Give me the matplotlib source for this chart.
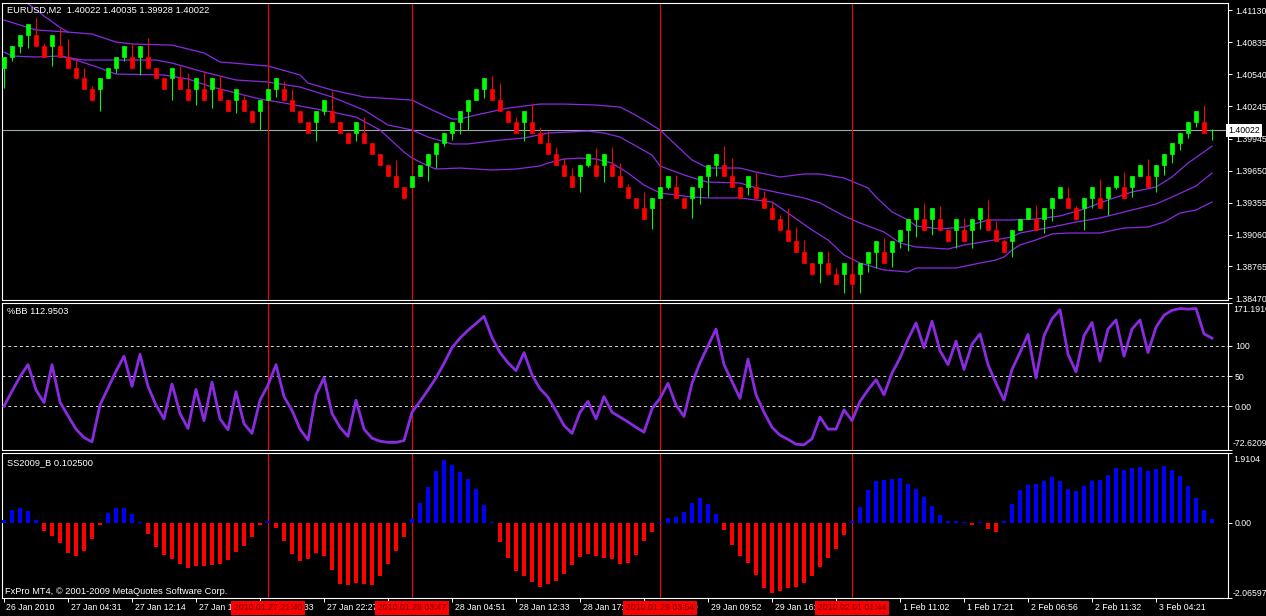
import matplotlib
matplotlib.use('Agg')
import matplotlib.pyplot as plt
import matplotlib.transforms as mtransforms
import numpy as np

W, H = 1266, 616

# ---- price bars (one per bar index 0..151) ----
opens = [1.4060, 1.4070, 1.4080, 1.4090, 1.4090, 1.4080, 1.4080, 1.4080, 1.4070, 1.4060,
         1.4050, 1.4040, 1.4040, 1.4050, 1.4060, 1.4070, 1.4070, 1.4070, 1.4070, 1.4060,
         1.4050, 1.4050, 1.4050, 1.4040, 1.4040, 1.4040, 1.4040, 1.4040, 1.4030, 1.4030,
         1.4030, 1.4020, 1.4020, 1.4030, 1.4040, 1.4040, 1.4030, 1.4020, 1.4010, 1.4010,
         1.4020, 1.4020, 1.4010, 1.4000, 1.4000, 1.4000, 1.3990, 1.3980, 1.3970, 1.3960,
         1.3950, 1.3950, 1.3960, 1.3970, 1.3980, 1.3990, 1.4000, 1.4010, 1.4020, 1.4030,
         1.4040, 1.4040, 1.4030, 1.4020, 1.4010, 1.4010, 1.4010, 1.4000, 1.3990, 1.3980,
         1.3970, 1.3960, 1.3960, 1.3970, 1.3970, 1.3970, 1.3970, 1.3960, 1.3950, 1.3940,
         1.3930, 1.3930, 1.3940, 1.3950, 1.3950, 1.3940, 1.3940, 1.3950, 1.3960, 1.3970,
         1.3970, 1.3960, 1.3950, 1.3950, 1.3950, 1.3940, 1.3930, 1.3920, 1.3910, 1.3900,
         1.3890, 1.3880, 1.3880, 1.3880, 1.3870, 1.3870, 1.3870, 1.3870, 1.3880, 1.3890,
         1.3890, 1.3890, 1.3900, 1.3910, 1.3920, 1.3920, 1.3920, 1.3920, 1.3910, 1.3910,
         1.3910, 1.3910, 1.3920, 1.3920, 1.3910, 1.3900, 1.3900, 1.3910, 1.3920, 1.3920,
         1.3920, 1.3930, 1.3940, 1.3940, 1.3930, 1.3930, 1.3940, 1.3940, 1.3940, 1.3950,
         1.3950, 1.3950, 1.3960, 1.3960, 1.3960, 1.3970, 1.3980, 1.3990, 1.4000, 1.4010,
         1.4010, 1.40022]
highs = [1.4070, 1.4080, 1.4090, 1.4100, 1.4106, 1.4083, 1.4090, 1.4096, 1.4086, 1.4069,
         1.4060, 1.4043, 1.4050, 1.4060, 1.4070, 1.4080, 1.4082, 1.4080, 1.4087, 1.4060,
         1.4050, 1.4060, 1.4061, 1.4055, 1.4050, 1.4057, 1.4050, 1.4052, 1.4030, 1.4040,
         1.4034, 1.4020, 1.4030, 1.4040, 1.4050, 1.4048, 1.4040, 1.4020, 1.4010, 1.4020,
         1.4030, 1.4038, 1.4010, 1.4000, 1.4010, 1.4014, 1.3990, 1.3980, 1.3970, 1.3975,
         1.3950, 1.3960, 1.3970, 1.3980, 1.3990, 1.4000, 1.4010, 1.4020, 1.4030, 1.4040,
         1.4050, 1.4052, 1.4046, 1.4020, 1.4014, 1.4020, 1.4027, 1.4005, 1.4001, 1.3987,
         1.3977, 1.3967, 1.3970, 1.3980, 1.3986, 1.3980, 1.3987, 1.3972, 1.3953, 1.3940,
         1.3945, 1.3940, 1.3950, 1.3960, 1.3961, 1.3940, 1.3950, 1.3960, 1.3970, 1.3980,
         1.3988, 1.3977, 1.3950, 1.3960, 1.3964, 1.3946, 1.3936, 1.3924, 1.3930, 1.3913,
         1.3901, 1.3880, 1.3890, 1.3891, 1.3875, 1.3880, 1.3870, 1.3880, 1.3890, 1.3900,
         1.3903, 1.3900, 1.3910, 1.3920, 1.3930, 1.3935, 1.3930, 1.3932, 1.3910, 1.3920,
         1.3921, 1.3920, 1.3930, 1.3938, 1.3918, 1.3902, 1.3910, 1.3920, 1.3930, 1.3933,
         1.3930, 1.3940, 1.3950, 1.3950, 1.3932, 1.3940, 1.3950, 1.3957, 1.3950, 1.3960,
         1.3964, 1.3960, 1.3970, 1.3976, 1.3970, 1.3980, 1.3990, 1.4000, 1.4010, 1.4020,
         1.4025, 1.40035]
lows = [1.4041, 1.4066, 1.4073, 1.4078, 1.4080, 1.4070, 1.4061, 1.4070, 1.4060, 1.4050,
        1.4040, 1.4030, 1.4020, 1.4050, 1.4055, 1.4066, 1.4060, 1.4053, 1.4060, 1.4050,
        1.4040, 1.4030, 1.4040, 1.4030, 1.4025, 1.4030, 1.4023, 1.4030, 1.4020, 1.4018,
        1.4020, 1.4010, 1.4002, 1.4030, 1.4033, 1.4030, 1.4020, 1.4010, 1.4000, 1.3992,
        1.4016, 1.4010, 1.4000, 1.3990, 1.3992, 1.3990, 1.3980, 1.3970, 1.3960, 1.3950,
        1.3940, 1.3950, 1.3960, 1.3955, 1.3967, 1.3988, 1.3993, 1.3999, 1.4002, 1.4030,
        1.4032, 1.4030, 1.4020, 1.4010, 1.4000, 1.3992, 1.4000, 1.3990, 1.3980, 1.3970,
        1.3960, 1.3950, 1.3945, 1.3968, 1.3960, 1.3954, 1.3960, 1.3950, 1.3940, 1.3930,
        1.3920, 1.3911, 1.3940, 1.3948, 1.3940, 1.3930, 1.3921, 1.3934, 1.3941, 1.3960,
        1.3960, 1.3950, 1.3940, 1.3942, 1.3940, 1.3930, 1.3920, 1.3910, 1.3900, 1.3890,
        1.3880, 1.3870, 1.3861, 1.3870, 1.3860, 1.3852, 1.3860, 1.3852, 1.3871, 1.3875,
        1.3880, 1.3876, 1.3894, 1.3891, 1.3904, 1.3910, 1.3906, 1.3910, 1.3900, 1.3894,
        1.3900, 1.3894, 1.3911, 1.3910, 1.3900, 1.3890, 1.3885, 1.3910, 1.3920, 1.3910,
        1.3907, 1.3918, 1.3940, 1.3930, 1.3920, 1.3910, 1.3930, 1.3930, 1.3924, 1.3948,
        1.3940, 1.3941, 1.3960, 1.3950, 1.3945, 1.3961, 1.3972, 1.3984, 1.3995, 1.4005,
        1.4000, 1.39928]
closes = [1.4070, 1.4080, 1.4090, 1.4100, 1.4080, 1.4070, 1.4090, 1.4070, 1.4060, 1.4050,
          1.4040, 1.4030, 1.4050, 1.4060, 1.4070, 1.4080, 1.4060, 1.4080, 1.4060, 1.4050,
          1.4040, 1.4060, 1.4040, 1.4030, 1.4050, 1.4030, 1.4050, 1.4030, 1.4020, 1.4040,
          1.4020, 1.4010, 1.4030, 1.4040, 1.4050, 1.4030, 1.4020, 1.4010, 1.4000, 1.4020,
          1.4030, 1.4010, 1.4000, 1.3990, 1.4010, 1.3990, 1.3980, 1.3970, 1.3960, 1.3950,
          1.3940, 1.3960, 1.3970, 1.3980, 1.3990, 1.4000, 1.4010, 1.4020, 1.4030, 1.4040,
          1.4050, 1.4030, 1.4020, 1.4010, 1.4000, 1.4020, 1.4000, 1.3990, 1.3980, 1.3970,
          1.3960, 1.3950, 1.3970, 1.3980, 1.3960, 1.3980, 1.3960, 1.3950, 1.3940, 1.3930,
          1.3920, 1.3940, 1.3950, 1.3960, 1.3940, 1.3930, 1.3950, 1.3960, 1.3970, 1.3980,
          1.3960, 1.3950, 1.3940, 1.3960, 1.3940, 1.3930, 1.3920, 1.3910, 1.3900, 1.3890,
          1.3880, 1.3870, 1.3890, 1.3870, 1.3860, 1.3880, 1.3860, 1.3880, 1.3890, 1.3900,
          1.3880, 1.3900, 1.3910, 1.3920, 1.3930, 1.3910, 1.3930, 1.3910, 1.3900, 1.3920,
          1.3900, 1.3920, 1.3930, 1.3910, 1.3900, 1.3890, 1.3910, 1.3920, 1.3930, 1.3910,
          1.3930, 1.3940, 1.3950, 1.3930, 1.3920, 1.3940, 1.3950, 1.3930, 1.3950, 1.3960,
          1.3940, 1.3960, 1.3970, 1.3950, 1.3970, 1.3980, 1.3990, 1.4000, 1.4010, 1.4020,
          1.4000, 1.40022]

# ---- band lines, read at bar indices ----
upper_idx = [0, 4, 8, 11, 14, 16, 21, 25, 27, 33, 37, 38, 41, 45, 51, 53, 56, 57, 59, 63,
             67, 70, 74, 77, 78, 80, 82, 84, 86, 88, 92, 94, 97, 100, 102, 105, 108, 109,
             111, 113, 114, 117, 120, 123, 126, 129, 132, 135, 138, 141, 144, 146, 148,
             150, 151]
upper_val = [1.41038, 1.40946, 1.40927, 1.40909, 1.40835, 1.40817, 1.40807, 1.40734,
             1.40651, 1.40614, 1.40531, 1.40457, 1.40392, 1.40328, 1.40300, 1.40226,
             1.40125, 1.40125, 1.40162, 1.40226, 1.40263, 1.40263, 1.40254, 1.40235,
             1.40199, 1.40116, 1.40024, 1.39885, 1.39747, 1.39673, 1.39673, 1.39636,
             1.39590, 1.39618, 1.39618, 1.39581, 1.39489, 1.39406, 1.39268, 1.39194,
             1.39139, 1.39111, 1.39129, 1.39194, 1.39194, 1.39203, 1.39231, 1.39295,
             1.39378, 1.39452, 1.39498, 1.39590, 1.39719, 1.39821, 1.39876]
steep_idx = [2, 3, 5, 7, 8]
steep_val = [1.41270, 1.41190, 1.41075, 1.40970, 1.40927]
mid_idx = [0, 1, 4, 7, 9, 10, 14, 19, 21, 25, 29, 33, 37, 41, 45, 48, 51, 53, 56, 58,
           62, 65, 68, 73, 75, 77, 79, 81, 82, 85, 87, 88, 92, 94, 97, 100, 102, 105, 107,
           110, 112, 114, 118, 120, 123, 126, 127, 131, 134, 137, 139, 142, 144, 146, 149,
           151]
mid_val = [1.40743, 1.40706, 1.40697, 1.40706, 1.40678, 1.40669, 1.40669, 1.40669, 1.40641,
           1.40558, 1.40485, 1.40466, 1.40420, 1.40328, 1.40208, 1.40070, 1.40024, 1.39959,
           1.39895, 1.39895, 1.39931, 1.39950, 1.39996, 1.40014, 1.39996, 1.39959, 1.39876,
           1.39793, 1.39692, 1.39609, 1.39563, 1.39544, 1.39535, 1.39489, 1.39443, 1.39397,
           1.39351, 1.39231, 1.39166, 1.39083, 1.38982, 1.38945, 1.38926, 1.38963, 1.39000,
           1.39037, 1.39074, 1.39129, 1.39175, 1.39212, 1.39249, 1.39304, 1.39341, 1.39406,
           1.39507, 1.39627]
low_idx = [7, 9, 12, 14, 20, 23, 26, 29, 32, 35, 37, 41, 44, 47, 50, 51, 53, 54, 57, 61,
           64, 67, 68, 70, 72, 74, 76, 78, 80, 82, 84, 86, 88, 92, 94, 96, 98, 101, 103, 105,
           107, 110, 113, 114, 119, 122, 124, 125, 126, 127, 129, 131, 133, 137, 140, 143,
           145, 147, 149, 151]
low_val = [1.40706, 1.40669, 1.40595, 1.40540, 1.40531, 1.40494, 1.40420, 1.40365, 1.40309,
           1.40273, 1.40245, 1.40190, 1.40143, 1.40024, 1.39821, 1.39765, 1.39692, 1.39664,
           1.39673, 1.39655, 1.39664, 1.39692, 1.39719, 1.39756, 1.39765, 1.39756, 1.39719,
           1.39627, 1.39516, 1.39443, 1.39424, 1.39406, 1.39397, 1.39397, 1.39378, 1.39360,
           1.39258, 1.39102, 1.39010, 1.38871, 1.38797, 1.38733, 1.38714, 1.38751, 1.38751,
           1.38797, 1.38825, 1.38853, 1.38917, 1.38963, 1.39010, 1.39065, 1.39074, 1.39074,
           1.39120, 1.39129, 1.39175, 1.39258, 1.39286, 1.39360]

# ---- %BB ----
pct_bb = [0, 25, 49, 69, 27, 6, 69, 7, -16, -38,
          -52, -59, 2, 30, 58, 83, 33, 86, 33, 2,
          -21, 37, -12, -37, 28, -24, 40, -21, -39, 24,
          -29, -45, 10, 35, 69, 16, -7, -38, -56, 19,
          47, -12, -35, -50, 10, -38, -53, -58, -60, -60,
          -57, -10, 8, 27, 47, 71, 97, 113, 126, 137,
          149, 114, 89, 72, 59, 89, 52, 29, 15, -8,
          -32, -45, -10, 8, -21, 16, -10, -18, -26, -35,
          -43, -4, 13, 38, 2, -17, 38, 72, 100, 128,
          69, 41, 13, 78, 19, -10, -35, -48, -55, -63,
          -64, -54, -18, -38, -38, -6, -24, 8, 27, 44,
          19, 55, 80, 111, 138, 97, 141, 92, 69, 108,
          61, 103, 120, 69, 38, 10, 61, 89, 119, 47,
          117, 145, 160, 86, 57, 117, 139, 75, 128, 143,
          83, 128, 143, 89, 131, 151, 159, 162, 161, 162,
          120, 112.9503]

# ---- SS2009_B histogram ----
ss_hist = [0.07, 0.35, 0.40, 0.32, 0.07, -0.22, -0.37, -0.55, -0.83, -0.92,
           -0.78, -0.45, -0.06, 0.26, 0.40, 0.40, 0.24, 0.02, -0.31, -0.66,
           -0.89, -1.00, -1.12, -1.24, -1.20, -1.18, -1.17, -1.12, -1.03, -0.80,
           -0.63, -0.39, -0.06, 0.05, -0.14, -0.50, -0.85, -1.05, -1.00, -0.83,
           -0.92, -1.31, -1.67, -1.72, -1.65, -1.67, -1.72, -1.47, -1.12, -0.77,
           -0.39, 0.09, 0.55, 0.98, 1.43, 1.73, 1.57, 1.39, 1.20, 0.92,
           0.49, 0.01, -0.52, -0.98, -1.32, -1.47, -1.63, -1.77, -1.69, -1.60,
           -1.40, -1.17, -0.94, -0.87, -0.92, -0.96, -1.01, -1.14, -1.10, -0.88,
           -0.50, -0.25, 0.03, 0.13, 0.15, 0.29, 0.53, 0.67, 0.52, 0.24,
           -0.20, -0.62, -0.92, -1.10, -1.44, -1.78, -1.93, -1.88, -1.79, -1.77,
           -1.66, -1.47, -1.21, -0.98, -0.73, -0.34, 0.05, 0.42, 0.90, 1.14,
           1.18, 1.20, 1.22, 1.07, 0.92, 0.70, 0.46, 0.20, 0.05, 0.04,
           0.01, -0.06, 0.01, -0.17, -0.25, 0.04, 0.52, 0.90, 1.04, 1.07,
           1.15, 1.25, 1.15, 0.93, 0.87, 1.01, 1.14, 1.18, 1.32, 1.50,
           1.45, 1.51, 1.53, 1.43, 1.47, 1.56, 1.44, 1.29, 1.01, 0.67,
           0.35, 0.1025]

price_ticks = [1.41130, 1.40835, 1.40540, 1.40245, 1.39945, 1.39650, 1.39355, 1.39060,
               1.38765, 1.38470]
bid = 1.40022
sep_idx = [33, 51, 82, 106]
sep_labels = ['2010.01.27 21:40', '2010.01.28 03:47', '2010.01.29 03:54', '2010.02.01 01:44']
time_idx = list(range(0, 145, 8))
time_labels = ['26 Jan 2010', '27 Jan 04:31', '27 Jan 12:14', '27 Jan 16:53', '27 Jan 21:33',
               '27 Jan 22:27', '28 Jan 02:35', '28 Jan 04:51', '28 Jan 12:33', '28 Jan 17:45',
               '29 Jan 02:10', '29 Jan 09:52', '29 Jan 16:28', '1 Feb 00:58', '1 Feb 11:02',
               '1 Feb 17:21', '2 Feb 06:56', '2 Feb 11:32', '3 Feb 04:21']

plt.rcParams['font.family'] = ['Liberation Sans', 'DejaVu Sans']
fs = 6.3

fig = plt.figure(figsize=(W / 100, H / 100), dpi=100, facecolor='black')


def panel(x0, y0, x1, y1):
    ax = fig.add_axes([x0 / W, 1 - y1 / H, (x1 - x0) / W, (y1 - y0) / H])
    ax.set_facecolor('black')
    for s in ax.spines.values():
        s.set_color('white')
        s.set_linewidth(0.8)
    ax.set_xlim(-0.25, 153)
    ax.yaxis.tick_right()
    ax.tick_params(axis='y', colors='white', labelcolor='white', length=3, width=0.7,
                   labelsize=fs, pad=2)
    ax.tick_params(axis='x', bottom=False, labelbottom=False)
    return ax


def ftext(x, y, s, **kw):
    fig.text(x / W, 1 - y / H, s, color=kw.pop('color', 'white'), fontsize=kw.pop('fontsize', 6.7),
             va=kw.pop('va', 'center'), **kw)


purple = '#8a2be2'

# top panel: candles + bands
ax1 = panel(2, 3, 1228, 300)
ax1.set_ylim(1.38456, 1.41195)
idx = np.arange(len(opens))
o = np.array(opens)
c = np.array(closes)
cols = np.where(c >= o, '#00ff00', '#ff0000')
ax1.vlines(idx, lows, highs, colors=cols, lw=0.75, zorder=3)
ax1.bar(idx, np.abs(c - o), bottom=np.minimum(o, c), width=0.6, color=cols,
        edgecolor=cols, linewidth=0.5, zorder=3)
for bi, bv in [(upper_idx, upper_val), (steep_idx, steep_val), (mid_idx, mid_val),
               (low_idx, low_val)]:
    ax1.plot(bi, bv, color=purple, lw=0.9, zorder=2)
ax1.axhline(bid, color='#9aa5b0', lw=0.8, zorder=1)
ax1.set_yticks(price_ticks)
ax1.set_yticklabels(['%.5f' % v for v in price_ticks])
ax1.text(1.0, bid, '%.5f' % bid, transform=mtransforms.blended_transform_factory(ax1.transAxes, ax1.transData),
         ha='left', va='center', fontsize=fs, color='black', zorder=10, clip_on=False,
         bbox=dict(boxstyle='square,pad=0.25', fc='white', ec='none'))

# middle panel: %BB
ax2 = panel(2, 303, 1228, 450)
ax2.set_ylim(-72.6209, 171.1910)
for lv in [100, 50, 0]:
    ax2.axhline(lv, color='#d8d8d8', lw=0.7, ls=(0, (3, 3)), zorder=1)
ax2.plot(idx, pct_bb, color=purple, lw=2.0, solid_joinstyle='round', zorder=3)
ax2.set_yticks([171.1910, 100, 50, 0, -72.6209])
ax2.set_yticklabels(['', '100', '50', '0.00', ''])

# bottom panel: histogram
ax3 = panel(2, 453, 1228, 598)
ax3.set_ylim(-2.06597, 1.9104)
hv = np.array(ss_hist)
ax3.bar(idx, hv, width=0.38, color=np.where(hv >= 0, '#0000ff', '#ff0000'), zorder=3)
ax3.set_yticks([1.9104, 0, -2.06597])
ax3.set_yticklabels(['', '0.00', ''])
ax3.set_xticks(time_idx)
ax3.tick_params(axis='x', bottom=True, labelbottom=False, length=3, width=0.7, color='white')

for ax in (ax1, ax2, ax3):
    for s in sep_idx:
        ax.axvline(s, color='#ff0000', lw=0.8, zorder=2)

# axis extremes on indicator panels
ftext(1233, 310, '171.1910', fontsize=fs)
ftext(1233, 443, '-72.6209', fontsize=fs)
ftext(1233, 460, '1.9104', fontsize=fs)
ftext(1233, 593, '-2.06597', fontsize=fs)

# time axis labels
tr = mtransforms.blended_transform_factory(ax3.transData, fig.transFigure)
off = mtransforms.ScaledTranslation(2.5 / 100, 0, fig.dpi_scale_trans)
for k, lab in zip(time_idx, time_labels):
    ax3.text(k, 1 - 607 / H, lab, transform=tr + off, ha='left', va='center',
             color='white', fontsize=fs, clip_on=False)
for k, lab in zip(sep_idx, sep_labels):
    ax3.text(k, 1 - 608 / H, lab, transform=tr, ha='center', va='center', color='#6a0000',
             fontsize=fs, clip_on=False, zorder=6,
             bbox=dict(boxstyle='square,pad=0.3', fc='#ff0000', ec='none'))

# panel captions
ftext(7, 10, 'EURUSD,M2  1.40022 1.40035 1.39928 1.40022')
ftext(7, 312, '%BB 112.9503')
ftext(7, 463, 'SS2009_B 0.102500')
ftext(5, 591, 'FxPro MT4, \u00a9 2001-2009 MetaQuotes Software Corp.')

fig.savefig('out.png', dpi=100, facecolor='black')
